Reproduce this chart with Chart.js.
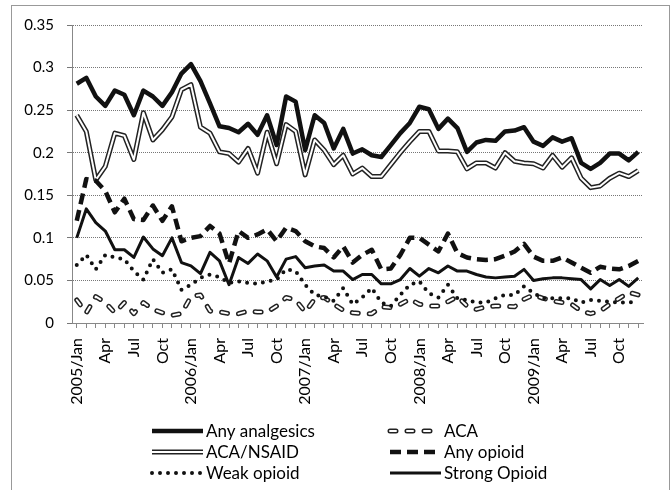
<!DOCTYPE html>
<html>
<head>
<meta charset="utf-8">
<script src="https://cdn.jsdelivr.net/npm/chart.js@4.4.1/dist/chart.umd.min.js"></script>
<style>
    html, body { margin: 0; padding: 0; background: #fff; }
    #wrap { width: 672px; height: 490px; }
</style>
</head>
<body>
<div id="wrap"><canvas id="chart" width="672" height="490"></canvas></div>
<script>
var years = [2005, 2006, 2007, 2008, 2009];
var monthNames = ['Jan', 'Feb', 'Mar', 'Apr', 'May', 'Jun', 'Jul', 'Aug', 'Sep', 'Oct', 'Nov', 'Dec'];
var yTicks = [0, 0.05, 0.1, 0.15, 0.2, 0.25, 0.3, 0.35];

var anyAnalgesics = [
    0.281, 0.288, 0.266, 0.255, 0.273, 0.268, 0.244, 0.273, 0.266, 0.255, 0.271, 0.293,
    0.304, 0.284, 0.258, 0.231, 0.229, 0.224, 0.234, 0.221, 0.244, 0.209, 0.266, 0.260,
    0.203, 0.244, 0.235, 0.205, 0.228, 0.199, 0.204, 0.197, 0.195, 0.209, 0.223, 0.235,
    0.254, 0.251, 0.228, 0.240, 0.229, 0.201, 0.212, 0.215, 0.214, 0.225, 0.226, 0.230,
    0.213, 0.208, 0.218, 0.213, 0.217, 0.188, 0.181, 0.188, 0.199, 0.199, 0.191, 0.201
];
var aca = [
    0.027, 0.012, 0.031, 0.024, 0.012, 0.024, 0.011, 0.024, 0.016, 0.012, 0.009, 0.011,
    0.031, 0.033, 0.014, 0.013, 0.011, 0.011, 0.014, 0.013, 0.013, 0.020, 0.030, 0.027,
    0.013, 0.028, 0.030, 0.022, 0.015, 0.012, 0.011, 0.011, 0.019, 0.018, 0.022, 0.028,
    0.022, 0.020, 0.020, 0.025, 0.031, 0.020, 0.016, 0.019, 0.020, 0.020, 0.019, 0.028,
    0.033, 0.029, 0.026, 0.024, 0.022, 0.014, 0.011, 0.014, 0.022, 0.029, 0.036, 0.033
];
var acaNsaid = [
    0.244, 0.225, 0.168, 0.184, 0.223, 0.220, 0.192, 0.247, 0.215, 0.227, 0.242, 0.274,
    0.280, 0.230, 0.223, 0.201, 0.199, 0.189, 0.205, 0.176, 0.224, 0.187, 0.233, 0.225,
    0.174, 0.215, 0.203, 0.186, 0.197, 0.175, 0.182, 0.172, 0.172, 0.186, 0.200, 0.213,
    0.225, 0.225, 0.202, 0.202, 0.201, 0.181, 0.188, 0.188, 0.182, 0.200, 0.190, 0.188,
    0.187, 0.182, 0.197, 0.183, 0.194, 0.170, 0.159, 0.161, 0.170, 0.176, 0.172, 0.179
];
var anyOpioid = [
    0.120, 0.169, 0.167, 0.155, 0.130, 0.146, 0.122, 0.121, 0.138, 0.120, 0.137, 0.096,
    0.100, 0.102, 0.114, 0.105, 0.070, 0.108, 0.100, 0.104, 0.110, 0.096, 0.112, 0.108,
    0.096, 0.090, 0.088, 0.077, 0.090, 0.071, 0.080, 0.086, 0.063, 0.064, 0.080, 0.100,
    0.100, 0.092, 0.084, 0.105, 0.082, 0.077, 0.075, 0.074, 0.075, 0.079, 0.084, 0.093,
    0.078, 0.073, 0.073, 0.077, 0.071, 0.065, 0.059, 0.066, 0.064, 0.063, 0.067, 0.073
];
var weakOpioid = [
    0.068, 0.080, 0.063, 0.080, 0.077, 0.075, 0.061, 0.051, 0.075, 0.059, 0.063, 0.039,
    0.045, 0.053, 0.057, 0.054, 0.047, 0.049, 0.047, 0.046, 0.049, 0.051, 0.063, 0.061,
    0.045, 0.033, 0.031, 0.026, 0.041, 0.022, 0.030, 0.041, 0.024, 0.020, 0.033, 0.045,
    0.049, 0.035, 0.030, 0.045, 0.029, 0.027, 0.024, 0.024, 0.029, 0.033, 0.033, 0.043,
    0.035, 0.029, 0.029, 0.029, 0.029, 0.024, 0.027, 0.026, 0.025, 0.024, 0.024, 0.025
];
var strongOpioid = [
    0.100, 0.134, 0.118, 0.108, 0.086, 0.086, 0.077, 0.101, 0.087, 0.079, 0.100, 0.071,
    0.067, 0.058, 0.083, 0.073, 0.045, 0.077, 0.070, 0.081, 0.073, 0.054, 0.075, 0.078,
    0.065, 0.067, 0.068, 0.061, 0.061, 0.051, 0.057, 0.057, 0.046, 0.046, 0.051, 0.064,
    0.055, 0.064, 0.059, 0.067, 0.061, 0.061, 0.057, 0.054, 0.053, 0.054, 0.055, 0.063,
    0.050, 0.052, 0.053, 0.053, 0.052, 0.051, 0.040, 0.051, 0.044, 0.051, 0.043, 0.053
];

var labels = [];
years.forEach(function(y) {
    monthNames.forEach(function(m, i) {
        labels.push(i === 0 ? y + '/' + m : m);
    });
});

var FONT = 'Lato, "Open Sans", sans-serif';

function series(label, data, opts) {
    var ds = {
        label: label,
        data: data,
        borderColor: '#111',
        borderWidth: 3,
        borderDash: [],
        borderCapStyle: 'butt',
        borderJoinStyle: 'round',
        pointRadius: 0,
        pointHoverRadius: 0,
        tension: 0,
        fill: false
    };
    Object.keys(opts).forEach(function(k) { ds[k] = opts[k]; });
    return ds;
}

var datasets = [
    series('Any analgesics', anyAnalgesics, { borderWidth: 4.5, order: 1, slot: 0 }),
    series('ACA', aca, { borderColor: '#222', borderWidth: 5, borderDash: [6, 11], borderCapStyle: 'round', order: 11, slot: 1 }),
    series('ACA', aca, { borderColor: '#fff', borderWidth: 2, borderDash: [6, 11], borderCapStyle: 'round', order: 10, slot: 1, inner: true }),
    series('ACA/NSAID', acaNsaid, { borderColor: '#222', borderWidth: 5, order: 5, slot: 2 }),
    series('ACA/NSAID', acaNsaid, { borderColor: '#fff', borderWidth: 2, order: 4, slot: 2, inner: true }),
    series('Any opioid', anyOpioid, { borderWidth: 4.5, borderDash: [11, 6], order: 3, slot: 3 }),
    series('Weak opioid', weakOpioid, { borderWidth: 4, borderDash: [0, 8], borderCapStyle: 'round', order: 7, slot: 4 }),
    series('Strong Opioid', strongOpioid, { borderWidth: 3, order: 6, slot: 5 })
];

// white page with the thin frame round the whole chart
var framePlugin = {
    id: 'frame',
    beforeDraw: function(chart) {
        var ctx = chart.ctx;
        ctx.save();
        ctx.fillStyle = '#fff';
        ctx.fillRect(0, 0, chart.width, chart.height);
        ctx.strokeStyle = '#999';
        ctx.lineWidth = 1;
        ctx.strokeRect(11.5, 5.5, 658, 500);
        ctx.restore();
    }
};

// two-column legend under the axis labels
var legendPlugin = {
    id: 'bottomLegend',
    afterDraw: function(chart) {
        var ctx = chart.ctx;
        var cols = [152, 390], rows = [431, 452, 473], len = 51;
        for (var s = 0; s < 6; s++) {
            var x = cols[s % 2], y = rows[Math.floor(s / 2)];
            var items = chart.data.datasets.filter(function(d) { return d.slot === s; });
            items.sort(function(a, b) { return (a.inner ? 1 : 0) - (b.inner ? 1 : 0); });
            ctx.save();
            items.forEach(function(d) {
                ctx.beginPath();
                ctx.setLineDash(d.borderDash || []);
                ctx.lineWidth = d.borderWidth;
                ctx.lineCap = d.borderCapStyle;
                ctx.strokeStyle = d.borderColor;
                ctx.moveTo(x, y);
                ctx.lineTo(x + len, y);
                ctx.stroke();
            });
            ctx.setLineDash([]);
            ctx.fillStyle = '#000';
            ctx.font = '17px ' + FONT;
            ctx.textBaseline = 'middle';
            ctx.fillText(items[0].label, x + len + 3, y + 1);
            ctx.restore();
        }
    }
};

new Chart(document.getElementById('chart'), {
    type: 'line',
    data: { labels: labels, datasets: datasets },
    options: {
        responsive: false,
        animation: false,
        layout: { padding: { left: 11, right: 29, top: 25, bottom: 67 } },
        plugins: {
            legend: { display: false },
            tooltip: { enabled: false }
        },
        scales: {
            x: {
                offset: true,
                grid: { display: true, drawOnChartArea: false, drawTicks: true, tickLength: 5, color: '#888', offset: false },
                border: { display: true, color: '#888' },
                ticks: {
                    autoSkip: false,
                    maxRotation: 90,
                    minRotation: 90,
                    padding: 10,
                    color: '#000',
                    font: { family: FONT, size: 16 },
                    callback: function(v, i) { return i % 3 === 0 ? this.getLabelForValue(v) : ''; }
                },
                afterFit: function(s) { s.height = 100; }
            },
            y: {
                min: 0,
                max: 0.35,
                afterBuildTicks: function(s) { s.ticks = yTicks.map(function(v) { return { value: v }; }); },
                grid: { color: '#777', tickLength: 5 },
                border: { display: true, color: '#888', dash: [1, 1] },
                ticks: {
                    padding: 13,
                    color: '#000',
                    font: { family: FONT, size: 15 },
                    callback: function(v) { return String(+v.toFixed(2)); }
                },
                afterFit: function(s) { s.width = 61; }
            }
        }
    },
    plugins: [framePlugin, legendPlugin]
});
</script>
</body>
</html>
